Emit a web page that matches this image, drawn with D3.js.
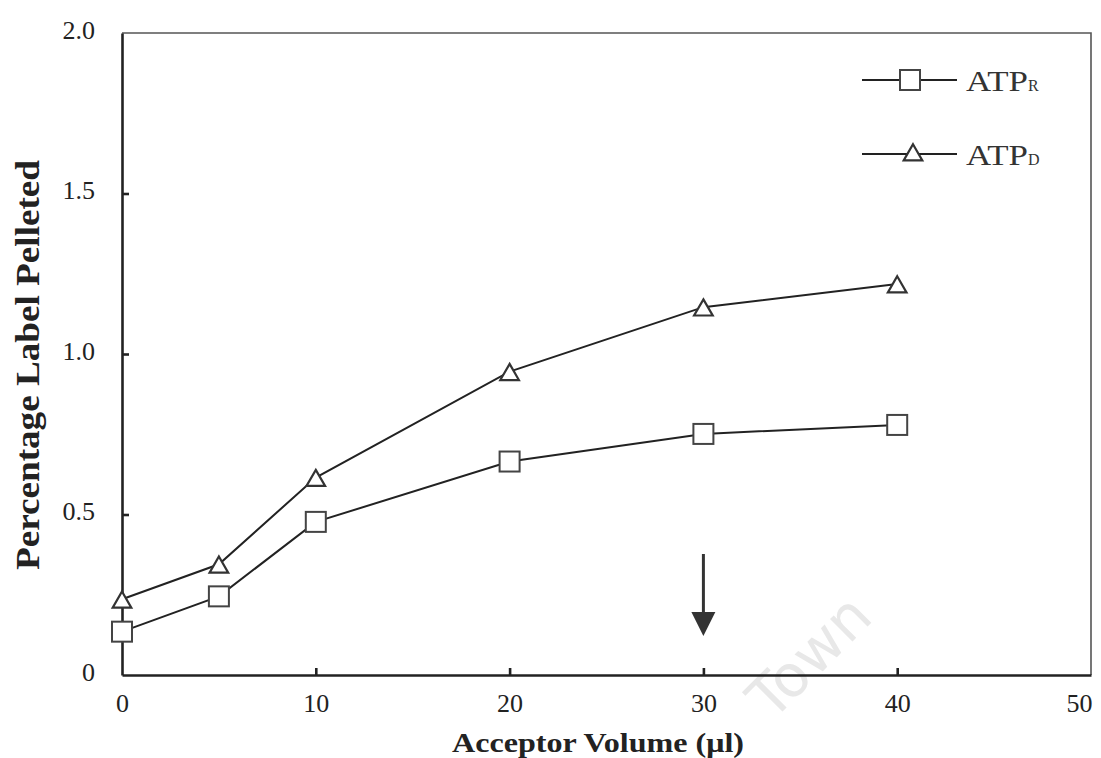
<!DOCTYPE html>
<html lang="en">
  <head>
    <meta charset="utf-8">
    <title>Percentage label pelleted</title>
    <style>
      body { margin: 0; background: #fff; }
      svg text { font-family: "Liberation Serif", "DejaVu Serif", serif; fill: #222; }
    </style>
  </head>
  <body>
    <div id="chart"></div>
    <script src="https://d3js.org/d3.v7.min.js" charset="utf-8"></script>
    <script>
      // values
      let volumes = [0, 5, 10, 20, 30, 40];
      let atpR = [0.135, 0.245, 0.477, 0.665, 0.751, 0.779];
      let atpD = [0.236, 0.345, 0.615, 0.945, 1.146, 1.218];
      let xTicks = [0, 10, 20, 30, 40, 50];
      let yTicks = [0, 0.5, 1.0, 1.5, 2.0];
      let yTickLabels = ['0', '0.5', '1.0', '1.5', '2.0'];
      let arrowAt = 30;

      let width = 1101, height = 758;
      let margin = { left: 122, right: 10, top: 33, bottom: 83 };

      let svg = d3.select('#chart').append('svg')
        .attr('width', width).attr('height', height);

      let x = d3.scaleLinear().domain([0, 50]).range([margin.left, width - margin.right]);
      let y = d3.scaleLinear().domain([0, 2]).range([height - margin.bottom, margin.top]);

      // watermark
      svg.append('text')
        .attr('transform', 'translate(772,722) rotate(-45)')
        .style('font-family', '"DejaVu Sans", sans-serif')
        .style('font-size', '58px')
        .style('fill', '#e8e8e8')
        .text('Town');

      // frame top/right
      svg.append('path')
        .attr('d', `M${x(0)},${y(2)}H${x(50)}V${y(0)}`)
        .attr('fill', 'none').attr('stroke', '#555').attr('stroke-width', 1.6);

      let xAxis = svg.append('g')
        .attr('transform', `translate(0,${y(0)})`)
        .call(d3.axisBottom(x).tickValues(xTicks).tickSize(-7).tickSizeOuter(0).tickFormat(d3.format('d')));
      xAxis.select('.domain').attr('stroke', '#222').attr('stroke-width', 2.6);
      xAxis.selectAll('.tick line').attr('stroke', '#222').attr('stroke-width', 2.6)
        .filter(d => d === 0 || d === 50).remove();
      xAxis.selectAll('.tick text').attr('y', 37).attr('dy', null)
        .attr('font-size', 26).attr('fill', '#333');
      // last label sits inside the page edge
      xAxis.selectAll('.tick text').filter(d => d === 50).attr('x', -12);

      let yAxis = svg.append('g')
        .attr('transform', `translate(${x(0)},0)`)
        .call(d3.axisLeft(y).tickValues(yTicks).tickSize(-7).tickSizeOuter(0)
          .tickFormat((d, i) => yTickLabels[i]));
      yAxis.select('.domain').attr('stroke', '#222').attr('stroke-width', 2.6);
      yAxis.selectAll('.tick line').attr('stroke', '#222').attr('stroke-width', 2.6)
        .filter(d => d === 0 || d === 2).remove();
      yAxis.selectAll('.tick text').attr('x', -27).attr('dy', '0.2em')
        .attr('font-size', 26).attr('fill', '#333');

      // axis titles
      svg.append('text')
        .attr('x', 452).attr('y', 752)
        .attr('textLength', 292).attr('lengthAdjust', 'spacingAndGlyphs')
        .style('font-size', '28px').style('font-weight', 'bold')
        .text('Acceptor Volume (\u03bcl)');
      svg.append('text')
        .attr('transform', 'translate(39,570) rotate(-90)')
        .attr('textLength', 410).attr('lengthAdjust', 'spacingAndGlyphs')
        .style('font-size', '33px').style('font-weight', 'bold')
        .text('Percentage Label Pelleted');

      let line = d3.line().x((d, i) => x(volumes[i])).y(d => y(d));
      let tri = d3.symbol().type(d3.symbolTriangle).size(150);

      function drawSeries(vals, shape) {
        svg.append('path').datum(vals)
          .attr('d', line).attr('fill', 'none')
          .attr('stroke', '#222').attr('stroke-width', 2);
        let g = svg.append('g');
        vals.forEach((v, i) => {
          if (shape === 'square') {
            g.append('rect')
              .attr('x', x(volumes[i]) - 10).attr('y', y(v) - 10)
              .attr('width', 20).attr('height', 20)
              .attr('fill', '#fff').attr('stroke', '#444').attr('stroke-width', 2);
          } else {
            g.append('path').attr('d', tri)
              .attr('transform', `translate(${x(volumes[i])},${y(v) + 3})`)
              .attr('fill', '#fff').attr('stroke', '#333').attr('stroke-width', 2.2);
          }
        });
      }
      drawSeries(atpR, 'square');
      drawSeries(atpD, 'triangle');

      // arrow at 30
      let ax = x(arrowAt);
      svg.append('line')
        .attr('x1', ax).attr('x2', ax).attr('y1', 554).attr('y2', 615)
        .attr('stroke', '#333').attr('stroke-width', 3);
      svg.append('path')
        .attr('d', `M${ax - 12},612L${ax + 12},612L${ax},636Z`)
        .attr('fill', '#333');

      // legend
      let legend = [
        { name: 'ATP', sub: 'R', shape: 'square', y: 80 },
        { name: 'ATP', sub: 'D', shape: 'triangle', y: 154 }
      ];
      legend.forEach(d => {
        svg.append('line').attr('x1', 862).attr('x2', 957).attr('y1', d.y).attr('y2', d.y)
          .attr('stroke', '#222').attr('stroke-width', 2);
        if (d.shape === 'square') {
          svg.append('rect').attr('x', 900).attr('y', d.y - 10).attr('width', 20).attr('height', 20)
            .attr('fill', '#fff').attr('stroke', '#444').attr('stroke-width', 2);
        } else {
          svg.append('path').attr('d', tri).attr('transform', `translate(913,${d.y + 1})`)
            .attr('fill', '#fff').attr('stroke', '#333').attr('stroke-width', 2.2);
        }
        let t = svg.append('text').attr('x', 966).attr('y', d.y + 11)
          .style('font-size', '30px').style('fill', '#333');
        t.append('tspan').attr('textLength', 62).attr('lengthAdjust', 'spacingAndGlyphs').text(d.name);
        t.append('tspan').style('font-size', '16px').text(d.sub);
      });
    </script>
  </body>
</html>
